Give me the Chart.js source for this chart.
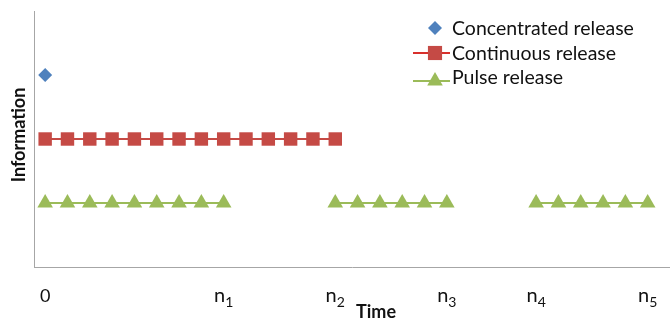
<!DOCTYPE html>
<html>
<head>
<meta charset="utf-8">
<script src="https://cdn.jsdelivr.net/npm/chart.js@4.4.1/dist/chart.umd.min.js"></script>
<style>
  html, body { margin: 0; padding: 0; background: #ffffff; }
  #wrap { width: 670px; height: 320px; }
</style>
</head>
<body>
<div id="wrap"><canvas id="chart" width="670" height="320"></canvas></div>
<script>
// Time steps along the horizontal axis
const timeSteps = [0, 1, 2, 3, 4, 5, 6, 7, 8, 9, 10, 11, 12, 13,
                   14, 15, 16, 17, 18, 19, 20, 21, 22, 23, 24, 25, 26, 27];

// Information level per time step (null = nothing released)
const concentratedRelease = [3];
const continuousRelease = [2, 2, 2, 2, 2, 2, 2, 2, 2, 2, 2, 2, 2, 2];
const pulseRelease = [1, 1, 1, 1, 1, 1, 1, 1, 1, null, null, null, null,
                      1, 1, 1, 1, 1, 1, null, null, null,
                      1, 1, 1, 1, 1, 1];

// Labelled instants on the time axis: base symbol and subscript
const tickSteps = [0, 8, 13, 18, 22, 27];
const tickBase = ['0', 'n', 'n', 'n', 'n', 'n'];
const tickSub = ['', '1', '2', '3', '4', '5'];

const seriesNames = ['Concentrated release', 'Continuous release', 'Pulse release'];
const xTitle = 'Time';
const yTitle = 'Information';

const BLUE = '#4f81bd';
const RED = '#c54a45';
const LEGEND_RED = '#d8302c';
const GREEN = '#9bbb59';
const AXIS = '#a6a6a6';
const TEXT = '#111111';
const FONT = 'Lato, "Open Sans", sans-serif';

const toPoints = values => values.map((v, i) => ({ x: timeSteps[i], y: v }));

// Small marker helpers used by the legend
function diamond(ctx, x, y, r) {
  ctx.beginPath();
  ctx.moveTo(x - r, y); ctx.lineTo(x, y - r); ctx.lineTo(x + r, y); ctx.lineTo(x, y + r);
  ctx.closePath(); ctx.fill();
}
function square(ctx, x, y, r) {
  const s = Math.SQRT1_2 * r;
  ctx.fillRect(x - s, y - s, 2 * s, 2 * s);
}
function triangle(ctx, x, y, r) {
  ctx.beginPath();
  ctx.moveTo(x, y - r);
  ctx.lineTo(x + 0.866 * r, y + 0.5 * r);
  ctx.lineTo(x - 0.866 * r, y + 0.5 * r);
  ctx.closePath(); ctx.fill();
}

const annotations = {
  id: 'annotations',
  afterDraw(chart) {
    const ctx = chart.ctx;
    const xScale = chart.scales.x;
    ctx.save();

    // Time-axis labels with subscripts, placed by the x scale
    ctx.fillStyle = TEXT;
    ctx.textBaseline = 'alphabetic';
    ctx.textAlign = 'left';
    tickSteps.forEach((step, i) => {
      const px = xScale.getPixelForValue(step);
      const baseFont = (tickSub[i] ? '20px ' : '18px ') + FONT;
      const subFont = '14px ' + FONT;
      ctx.font = baseFont;
      const wBase = ctx.measureText(tickBase[i]).width;
      ctx.font = subFont;
      const wSub = tickSub[i] ? ctx.measureText(tickSub[i]).width : 0;
      const left = px - (wBase + wSub) / 2;
      ctx.font = baseFont;
      ctx.fillText(tickBase[i], left, 302);
      if (tickSub[i]) {
        ctx.font = subFont;
        ctx.fillText(tickSub[i], left + wBase, 307);
      }
    });

    // Legend: marker (with line for the connected series) and name
    const lx = 435, tx = 452;
    const rows = [28, 53, 81];
    const bases = [35, 60, 84];
    ctx.lineWidth = 2;
    ctx.fillStyle = BLUE;
    diamond(ctx, lx, rows[0], 7);
    ctx.strokeStyle = LEGEND_RED;
    ctx.beginPath(); ctx.moveTo(413, rows[1]); ctx.lineTo(450, rows[1]); ctx.stroke();
    ctx.fillStyle = RED;
    square(ctx, lx, rows[1], 10);
    ctx.strokeStyle = GREEN;
    ctx.beginPath(); ctx.moveTo(413, rows[2]); ctx.lineTo(450, rows[2]); ctx.stroke();
    ctx.fillStyle = GREEN;
    triangle(ctx, lx, rows[2], 9);

    ctx.fillStyle = TEXT;
    ctx.font = '19.5px ' + FONT;
    seriesNames.forEach((name, i) => ctx.fillText(name, tx, bases[i]));

    // Axis titles
    ctx.font = 'bold 18px ' + FONT;
    ctx.textAlign = 'center';
    ctx.fillText(xTitle, 376, 318);
    ctx.translate(25, 135);
    ctx.rotate(-Math.PI / 2);
    ctx.fillText(yTitle, 0, 0);
    ctx.restore();
  }
};

new Chart(document.getElementById('chart'), {
  type: 'line',
  data: {
    datasets: [
      {
        label: seriesNames[0],
        data: toPoints(concentratedRelease),
        showLine: false,
        pointStyle: 'rectRot',
        pointRadius: 7,
        pointBorderWidth: 0,
        backgroundColor: BLUE,
        borderColor: BLUE
      },
      {
        label: seriesNames[1],
        data: toPoints(continuousRelease),
        pointStyle: 'rect',
        pointRadius: 9.5,
        pointBorderWidth: 0,
        borderWidth: 2,
        backgroundColor: RED,
        borderColor: RED
      },
      {
        label: seriesNames[2],
        data: toPoints(pulseRelease),
        spanGaps: false,
        pointStyle: 'triangle',
        pointRadius: 9,
        pointBorderWidth: 0,
        borderWidth: 2,
        backgroundColor: GREEN,
        borderColor: GREEN
      }
    ]
  },
  options: {
    responsive: false,
    animation: false,
    devicePixelRatio: 1,
    layout: { autoPadding: false, padding: { top: 11, right: 0, bottom: 0, left: 0 } },
    plugins: {
      legend: { display: false },
      tooltip: { enabled: false }
    },
    scales: {
      x: {
        type: 'linear',
        min: -0.5,
        max: 28,
        afterBuildTicks: scale => { scale.ticks = tickSteps.map(v => ({ value: v })); },
        afterFit: scale => { scale.height = 53; },
        grid: { display: false },
        border: { display: true, color: AXIS, width: 1 },
        ticks: { display: false }
      },
      y: {
        min: 0,
        max: 4,
        afterFit: scale => { scale.width = 34; },
        grid: { display: false },
        border: { display: true, color: AXIS, width: 1 },
        ticks: { display: false }
      }
    }
  },
  plugins: [annotations]
});
</script>
</body>
</html>
